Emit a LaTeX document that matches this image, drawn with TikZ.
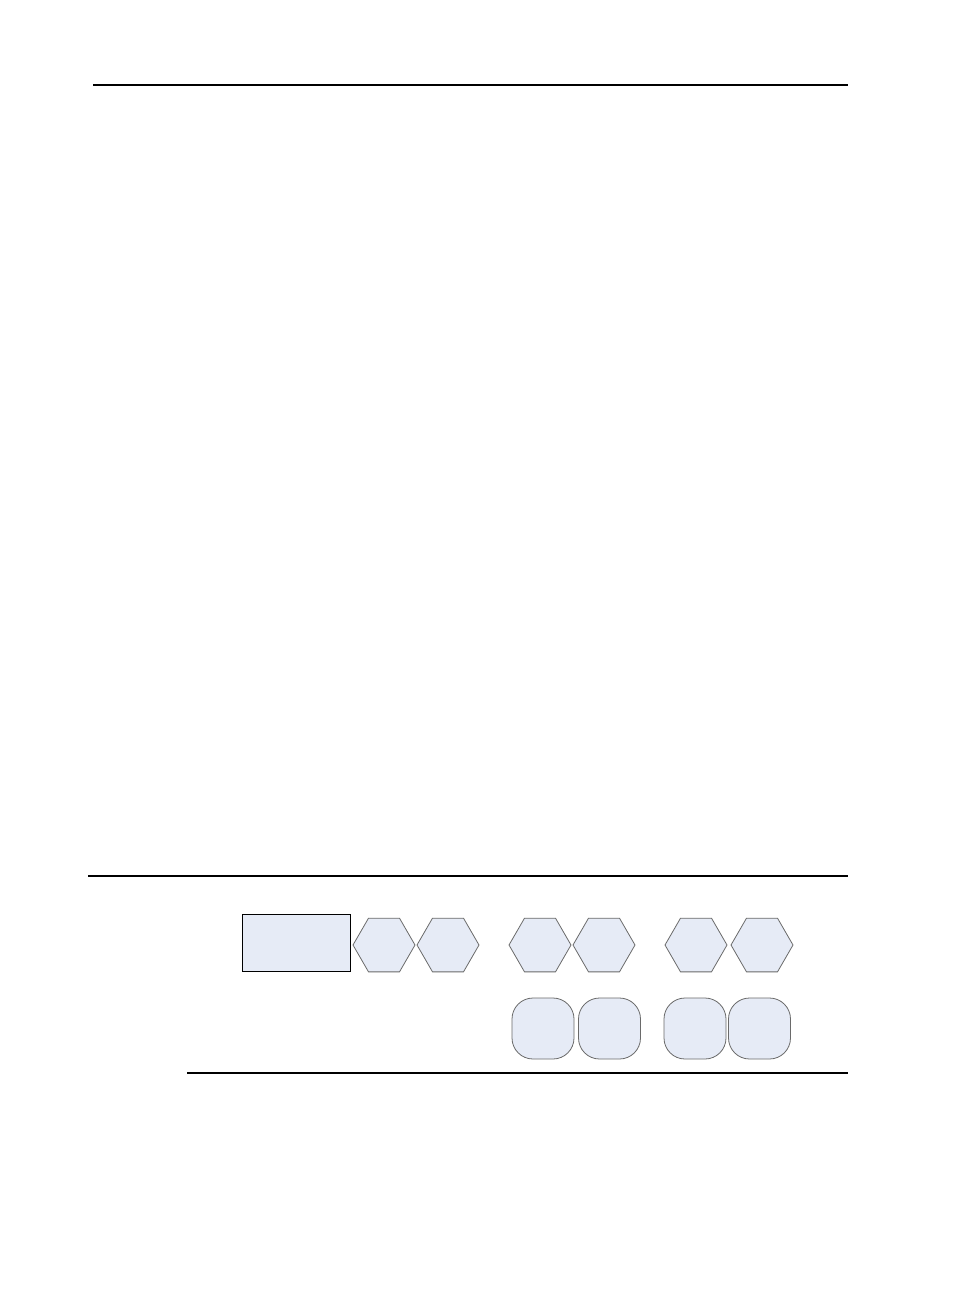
\documentclass[tikz,border=0pt]{standalone}
\usetikzlibrary{shapes.geometric}
\definecolor{boxfill}{HTML}{E6EBF6}
\definecolor{edgegray}{HTML}{6A6A6A}
\begin{document}
\begin{tikzpicture}[x=1pt,y=-1pt,
  hexbox/.style={regular polygon, regular polygon sides=6,
    minimum size=62pt, inner sep=0pt, outer sep=0pt, fill=boxfill, draw=edgegray, line width=0.8pt},
  roundbox/.style={rectangle, rounded corners=21pt, minimum width=62pt, minimum height=61pt,
    inner sep=0pt, outer sep=0pt, fill=boxfill, draw=edgegray, line width=0.8pt},
  mainbox/.style={rectangle, minimum width=108pt, minimum height=57pt, inner sep=0pt,
    fill=boxfill, draw=black, line width=1pt},
  rule/.style={line width=2pt, black},
  thinrule/.style={line width=1.2pt, black}]
\useasboundingbox (0,0) rectangle (956,1296);
\coordinate (t1) at (93,85);
\coordinate (t2) at (848,85);
\coordinate (m1) at (88,875.5);
\coordinate (m2) at (848,875.5);
\coordinate (b1) at (187,1073);
\coordinate (b2) at (848,1073);
\draw[rule] (t1) -- (t2);
\draw[rule] (m1) -- (m2);
\draw[thinrule] (b1) -- (b2);
\node[mainbox] (rect) at (296,942.5) {};
\node[hexbox] (h1) at (384,945) {};
\node[hexbox] (h2) at (448,945) {};
\node[hexbox] (h3) at (540,945) {};
\node[hexbox] (h4) at (604,945) {};
\node[hexbox] (h5) at (696,945) {};
\node[hexbox] (h6) at (762,945) {};
\node[roundbox] (r1) at (543,1028.5) {};
\node[roundbox] (r2) at (609.5,1028.5) {};
\node[roundbox] (r3) at (695,1028.5) {};
\node[roundbox] (r4) at (759.5,1028.5) {};
\end{tikzpicture}
\end{document}
